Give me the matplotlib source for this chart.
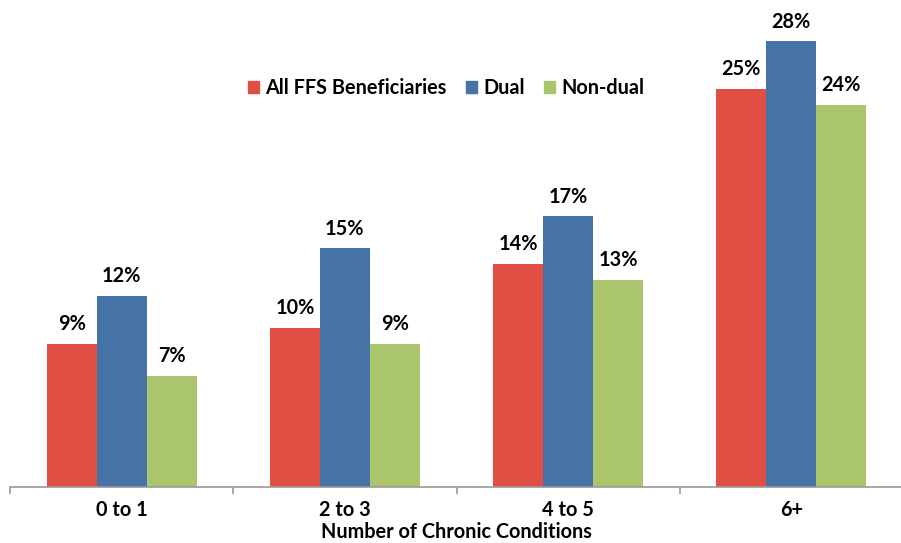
import numpy as np
import matplotlib.pyplot as plt
from matplotlib.patches import Patch

plt.rcParams['font.family'] = ['Lato', 'DejaVu Sans']
plt.rcParams['font.weight'] = 'bold'

categories = ["0 to 1", "2 to 3", "4 to 5", "6+"]
series_names = ["All FFS Beneficiaries", "Dual", "Non-dual"]
all_ffs = [9, 10, 14, 25]
dual = [12, 15, 17, 28]
non_dual = [7, 9, 13, 24]
colors = ["#E14F44", "#4673A5", "#ABC56D"]

fs = 14.3

fig = plt.figure(figsize=(9.01, 5.43), dpi=100)
ax = fig.add_axes([10 / 901, 56 / 543, 893 / 901, 487 / 543])

x = np.arange(len(categories))
w = 0.224
for i, (vals, col) in enumerate(zip([all_ffs, dual, non_dual], colors)):
    pos = x + (i - 1) * w
    bars = ax.bar(pos, vals, width=w, color=col, edgecolor="none")
    for b, v in zip(bars, vals):
        ax.annotate(f"{v}%", (b.get_x() + b.get_width() / 2, v),
                    xytext=(0, 7), textcoords="offset points",
                    ha="center", va="bottom", fontsize=fs, fontweight="bold")

ax.set_xlim(-0.5, 3.5)
ax.set_ylim(0, 30.6)
ax.set_yticks([])
for s in ["top", "right", "left"]:
    ax.spines[s].set_visible(False)
ax.spines["bottom"].set_color("#999999")
ax.spines["bottom"].set_linewidth(1.2)

ax.set_xticks(x)
ax.set_xticklabels(categories, fontsize=fs, fontweight="bold")
ax.tick_params(axis="x", length=0, pad=9)
ax.set_xticks(np.arange(-0.5, 3.6, 1), minor=True)
ax.tick_params(axis="x", which="minor", length=5, color="#999999", width=1.2)
ax.set_xlabel("Number of Chronic Conditions", fontsize=fs, fontweight="bold", labelpad=2)

handles = [Patch(color=c) for c in colors]
fig.legend(handles, series_names, loc="center", bbox_to_anchor=(446 / 901, 1 - 88 / 543),
           ncol=3, frameon=False, handlelength=0.55, handleheight=0.55,
           handletextpad=0.3, columnspacing=1.0, prop={"weight": "bold", "size": fs})

fig.savefig("out.png", dpi=100)
plt.close()
